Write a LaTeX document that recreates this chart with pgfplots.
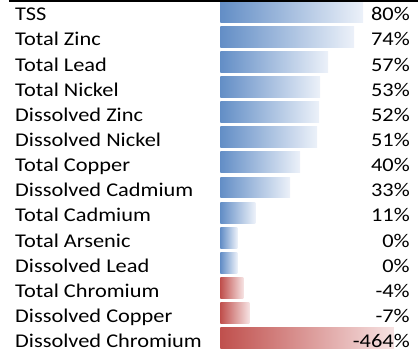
\documentclass[border=0pt]{standalone}
\usepackage{pgfplots}
\usepackage{pgfplotstable}
\usepackage{fontspec}
\setmainfont{Carlito}[FakeStretch=1.15]
\pgfplotsset{compat=1.18}
\definecolor{barblue}{RGB}{99,142,198}
\definecolor{barblueend}{RGB}{236,241,249}
\definecolor{barred}{RGB}{192,80,77}
\definecolor{barredend}{RGB}{246,226,226}
% y = row centre (pixels from top), len = drawn bar length, value in percent
\pgfplotstableread{
y      len  value  name                  pct
11.5   143   80    TSS                   80\%
36.7   134   74    {Total Zinc}          74\%
61.9   108   57    {Total Lead}          57\%
87.1   100   53    {Total Nickel}        53\%
112.3   99   52    {Dissolved Zinc}      52\%
137.5   97   51    {Dissolved Nickel}    51\%
162.7   80   40    {Total Copper}        40\%
187.9   70   33    {Dissolved Cadmium}   33\%
213.1   35   11    {Total Cadmium}       11\%
238.3   17    0    {Total Arsenic}       0\%
263.5   17    0    {Dissolved Lead}      0\%
288.7   23   -4    {Total Chromium}      -4\%
313.9   29   -7    {Dissolved Copper}    -7\%
339.1  174 -464    {Dissolved Chromium}  -464\%
}\datatable
\begin{document}
\begin{tikzpicture}
\begin{axis}[
  scale only axis, width=419bp, height=356bp,
  xmin=-221, xmax=198, ymin=0, ymax=356, y dir=reverse,
  hide axis, clip=false,
  every node near coord/.append style={font=\fontsize{19.5bp}{23bp}\selectfont, text=black, inner sep=0pt},
  posbar/.style={xbar, bar width=21, bar shift=0pt, draw=none, left color=barblue, right color=barblueend},
  negbar/.style={xbar, bar width=21, bar shift=0pt, draw=none, left color=barred, right color=barredend},
]
\path (axis cs:-221,0) rectangle (axis cs:198,356);
\addplot[posbar] coordinates {(143,11.5)};
\addplot[posbar] coordinates {(134,36.7)};
\addplot[posbar] coordinates {(108,61.9)};
\addplot[posbar] coordinates {(100,87.1)};
\addplot[posbar] coordinates {(99,112.3)};
\addplot[posbar] coordinates {(97,137.5)};
\addplot[posbar] coordinates {(80,162.7)};
\addplot[posbar] coordinates {(70,187.9)};
\addplot[posbar] coordinates {(35,213.1)};
\addplot[posbar] coordinates {(17,238.3)};
\addplot[posbar] coordinates {(17,263.5)};
\addplot[negbar] coordinates {(23,288.7)};
\addplot[negbar] coordinates {(29,313.9)};
\addplot[negbar] coordinates {(174,339.1)};
\addplot[draw=none, mark=none, nodes near coords, point meta=explicit symbolic,
  nodes near coords style={anchor=base west}]
  table[x expr=-206, y expr=\thisrow{y}+9.3, meta=name] {\datatable};
\addplot[draw=none, mark=none, nodes near coords, point meta=explicit symbolic,
  nodes near coords style={anchor=base east}]
  table[x expr=190, y expr=\thisrow{y}+9.3, meta=pct] {\datatable};
\draw[black, line width=2.2bp] (axis cs:-212,1) -- (axis cs:198,1);
\end{axis}
\end{tikzpicture}
\end{document}
